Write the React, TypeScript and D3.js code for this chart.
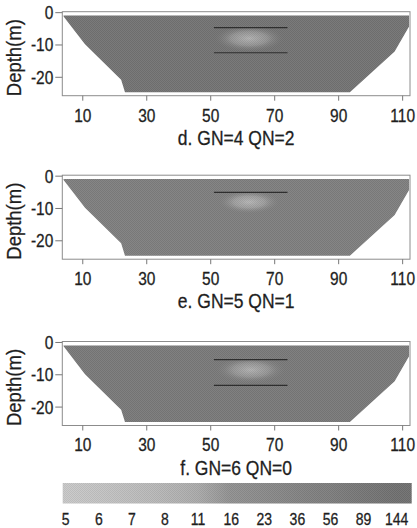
import React from "react";
import * as d3 from "d3";

// ---------- data ----------
const xTicks = [10, 30, 50, 70, 90, 110];
const yTicks = [0, -10, -20];
const panelTitles = ["d. GN=4 QN=2", "e. GN=5 QN=1", "f. GN=6 QN=0"];
// outline of the inverted section (distance, depth)
const sectionX = [4, 112, 112, 107.5, 93.5, 23.2, 22, 10.7, 4];
const sectionDepth = [-0.9, -0.9, -4.3, -12, -24.6, -24.6, -20.8, -9.8, -1.2];
// background resistivity of each section
const panelBackground = [110, 50, 75];
// anomaly (ellipse) per panel
const anomalyX = [62, 62, 62.5];
const anomalyDepth = [-8, -8, -8.5];
const anomalyRx = [8, 7, 8];
const anomalyRy = [3, 2.6, 3];
const anomalyValue = [9, 8, 9];
// horizontal marker lines
const lineStart = 51;
const lineEnd = 74;
const lineDepths = [[-4.6, -12.4], [-5], [-5.3, -13.3]];
// colour legend
const legendValues = [5, 6, 7, 8, 11, 16, 23, 36, 56, 89, 144];
const legendGrays = ["#c9c9c9", "#c4c4c4", "#bebebe", "#b6b6b6", "#ababab", "#919191", "#8b8b8b", "#848484", "#7e7e7e", "#777777", "#717171"];

// ---------- layout ----------
const W = 417, H = 528;
const frameLeft = 62.3, frameRight = 410;
const panelTops = [11.7, 175.2, 341.5];
const panelH = 84;
const font = "'Liberation Sans', Arial, sans-serif";
const ink = "#1e1e1e";

const x = d3.scaleLinear().domain([3.6, 112.3]).range([frameLeft, frameRight]);
const color = d3.scaleLog<string>().domain(legendValues).range(legendGrays).clamp(true);

function T({ x: tx, y: ty, size, anchor, children }: { x: number; y: number; size: number; anchor: string; children: React.ReactNode }) {
  return (
    <text transform={`translate(${tx},${ty}) scale(1,1.15)`} dy="0.36em" textAnchor={anchor} fontSize={size} fontFamily={font} fill={ink} stroke={ink} strokeWidth={0.25}>
      {children}
    </text>
  );
}

function Panel({ i }: { i: number }) {
  const top = panelTops[i];
  const y = d3.scaleLinear().domain([0.3, -25.7]).range([top, top + panelH]);
  const pts: [number, number][] = sectionX.map((v, k) => [x(v), y(sectionDepth[k])]);
  const path = d3.line()(pts) + "Z";
  const bg = color(panelBackground[i]);
  const cx = x(anomalyX[i]);
  const cy = y(anomalyDepth[i]);
  const rx = x(anomalyX[i] + anomalyRx[i]) - cx;
  const ry = y(anomalyDepth[i] - anomalyRy[i]) - cy;
  const bottom = top + panelH;
  return (
    <g>
      <defs>
        <radialGradient id={`an${i}`}>
          <stop offset="0%" stopColor={color(anomalyValue[i])} stopOpacity={1} />
          <stop offset="50%" stopColor={color(anomalyValue[i] * 1.5)} stopOpacity={0.8} />
          <stop offset="100%" stopColor={bg} stopOpacity={0} />
        </radialGradient>
        <clipPath id={`clip${i}`}>
          <path d={path} />
        </clipPath>
      </defs>
      <path d={path} fill={bg} />
      <g clipPath={`url(#clip${i})`}>
        <ellipse cx={cx} cy={cy} rx={rx * 1.4} ry={ry * 1.4} fill={`url(#an${i})`} />
        <rect x={frameLeft} y={top} width={frameRight - frameLeft} height={panelH} fill="url(#dither)" />
      </g>
      {lineDepths[i].map((dp, k) => (
        <line key={k} x1={x(lineStart)} x2={x(lineEnd)} y1={y(dp)} y2={y(dp)} stroke="#2e2e2e" strokeWidth={1.2} />
      ))}
      <rect x={frameLeft} y={top} width={frameRight - frameLeft} height={panelH} fill="none" stroke="#8c8c8c" strokeWidth={1} />
      {yTicks.map((t) => (
        <g key={t}>
          <line x1={frameLeft - 7} x2={frameLeft} y1={y(t)} y2={y(t)} stroke="#777" />
          <T x={frameLeft - 9} y={y(t)} size={15.5} anchor="end">{t}</T>
        </g>
      ))}
      {xTicks.map((t) => (
        <g key={t}>
          <line x1={x(t)} x2={x(t)} y1={bottom} y2={bottom + 5} stroke="#777" />
          <T x={x(t)} y={bottom + 19.5} size={15.5} anchor="middle">{t}</T>
        </g>
      ))}
      <T x={(frameLeft + frameRight) / 2} y={bottom + 42} size={17.5} anchor="middle">{panelTitles[i]}</T>
      <text transform={`translate(13.5,${top + panelH / 2 + 4}) rotate(-90) scale(1,1.1)`} dy="0.36em" textAnchor="middle" fontSize={18.5} fontFamily={font} fill={ink} stroke={ink} strokeWidth={0.25}>Depth(m)</text>
    </g>
  );
}

export default function App() {
  const barLeft = 62.7, barRight = 411.7, barTop = 483, barBottom = 503.5;
  const lx = d3.scalePoint<number>().domain(legendValues).range([65.7, 396.7]);
  const toOff = (v: number) => ((lx(v)! - barLeft) / (barRight - barLeft)) * 100;
  return (
    <svg width={W} height={H} style={{ position: "absolute", left: 0, top: 0, background: "#fff" }}>
      <defs>
        <pattern id="dither" width={2} height={2} patternUnits="userSpaceOnUse">
          <rect x={0} y={0} width={1} height={1} fill="#000" opacity={0.06} />
          <rect x={1} y={1} width={1} height={1} fill="#000" opacity={0.06} />
          <rect x={1} y={0} width={1} height={1} fill="#fff" opacity={0.05} />
          <rect x={0} y={1} width={1} height={1} fill="#fff" opacity={0.05} />
        </pattern>
        <linearGradient id="legendGrad" x1="0%" x2="100%" y1="0%" y2="0%">
          {legendValues.map((v, k) => (
            <stop key={v} offset={`${toOff(v)}%`} stopColor={legendGrays[k]} />
          ))}
        </linearGradient>
      </defs>
      {panelTitles.map((_, i) => <Panel key={i} i={i} />)}
      <rect x={barLeft} y={barTop} width={barRight - barLeft} height={barBottom - barTop} fill="url(#legendGrad)" />
      <rect x={barLeft} y={barTop} width={barRight - barLeft} height={barBottom - barTop} fill="url(#dither)" />
      {legendValues.map((v) => (
        <T key={v} x={lx(v)!} y={519} size={14} anchor="middle">{v}</T>
      ))}
    </svg>
  );
}
